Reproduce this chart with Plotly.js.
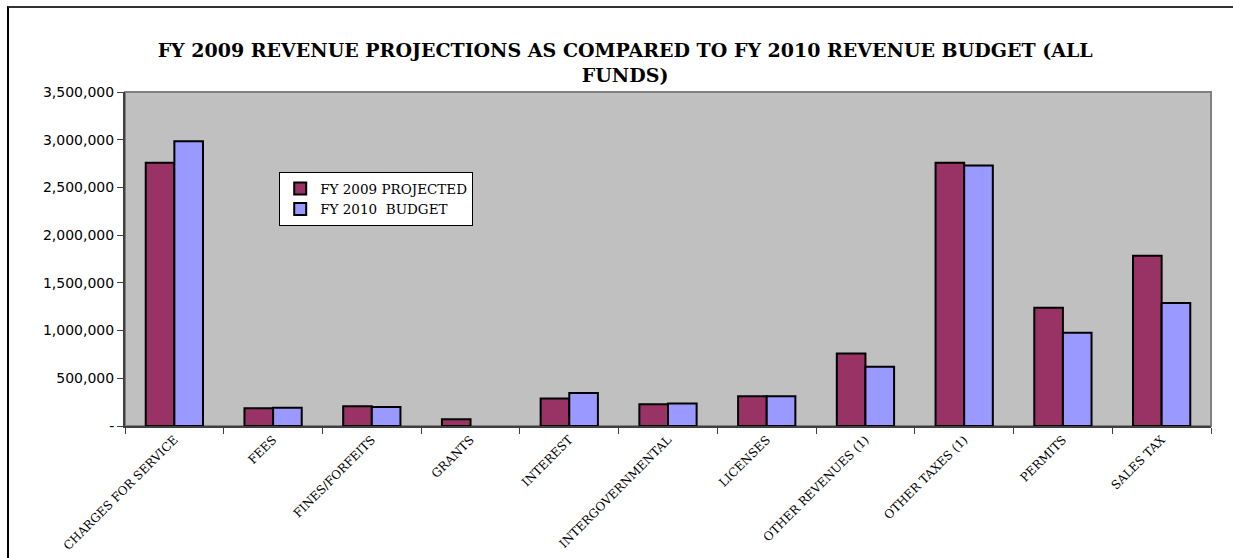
<!DOCTYPE html>
<html>
<head>
<meta charset="utf-8">
<script src="https://cdn.plot.ly/plotly-3.0.1.min.js"></script>
<style>
  html, body { margin: 0; padding: 0; background: #fff; }
  #chart { width: 1233px; height: 558px; }
  #frame { position: absolute; left: 7px; top: 6px; width: 1400px; height: 700px;
           border-left: 2px solid #000; border-top: 2px solid #333; pointer-events: none; }
</style>
</head>
<body>
<div id="chart"></div>
<div id="frame"></div>
<script>
const categories = [
  "CHARGES FOR SERVICE", "FEES", "FINES/FORFEITS", "GRANTS", "INTEREST",
  "INTERGOVERNMENTAL", "LICENSES", "OTHER REVENUES (1)", "OTHER TAXES (1)",
  "PERMITS", "SALES TAX"
];
const fy2009Projected = [2758000, 186000, 207000, 70000, 288000, 228000, 312000, 761000, 2758000, 1240000, 1784000];
const fy2010Budget    = [2985000, 190000, 200000, null, 347000, 235000, 312000, 620000, 2730000, 977000, 1290000];
const yTickVals   = [0, 500000, 1000000, 1500000, 2000000, 2500000, 3000000, 3500000];
const yTickLabels = ["-", "500,000", "1,000,000", "1,500,000", "2,000,000", "2,500,000", "3,000,000", "3,500,000"];

const traces = [
  { type: "bar", name: "FY 2009 PROJECTED", x: categories, y: fy2009Projected,
    marker: { color: "#993366", line: { color: "#000", width: 2 } }, hoverinfo: "skip" },
  { type: "bar", name: "FY 2010  BUDGET", x: categories, y: fy2010Budget,
    marker: { color: "#9999FF", line: { color: "#000", width: 2 } }, hoverinfo: "skip" }
];

const layout = {
  width: 1233, height: 558,
  margin: { l: 125, r: 22, t: 92, b: 132 },
  paper_bgcolor: "#fff",
  plot_bgcolor: "#C0C0C0",
  barmode: "group",
  bargap: 0.42,
  bargroupgap: 0,
  showlegend: true,
  title: {
    text: "FY 2009 REVENUE PROJECTIONS AS COMPARED TO FY 2010 REVENUE BUDGET (ALL<br>FUNDS)",
    font: { family: "DejaVu Serif", size: 19, color: "#000", weight: "bold" },
    xref: "container", x: 0.507, xanchor: "center",
    yref: "container", y: 0.898, yanchor: "top"
  },
  legend: {
    x: 0.142, y: 0.76, xanchor: "left", yanchor: "top",
    bgcolor: "#fff", bordercolor: "#000", borderwidth: 1,
    font: { family: "DejaVu Serif", size: 13.5, color: "#000" },
    tracegroupgap: 0
  },
  xaxis: {
    type: "category",
    tickson: "boundaries",
    ticks: "outside", ticklen: 6, tickcolor: "#404040", tickwidth: 1,
    tickangle: -45,
    tickfont: { family: "DejaVu Serif", size: 12, color: "#000" },
    showline: true, linecolor: "#404040", linewidth: 2,
    showgrid: false, zeroline: false, fixedrange: true
  },
  yaxis: {
    range: [0, 3500000],
    tickvals: yTickVals, ticktext: yTickLabels,
    ticks: "outside", ticklen: 6, tickcolor: "#404040", tickwidth: 1,
    tickfont: { family: "DejaVu Sans", size: 14, color: "#000" },
    showline: true, linecolor: "#404040", linewidth: 2,
    showgrid: false, zeroline: false, fixedrange: true
  },
  shapes: [
    { type: "rect", xref: "paper", yref: "paper", x0: 0, x1: 1, y0: 0, y1: 1,
      line: { color: "#808080", width: 2 }, layer: "below" }
  ]
};

Plotly.newPlot("chart", traces, layout, { staticPlot: true, displayModeBar: false });
</script>
</body>
</html>
